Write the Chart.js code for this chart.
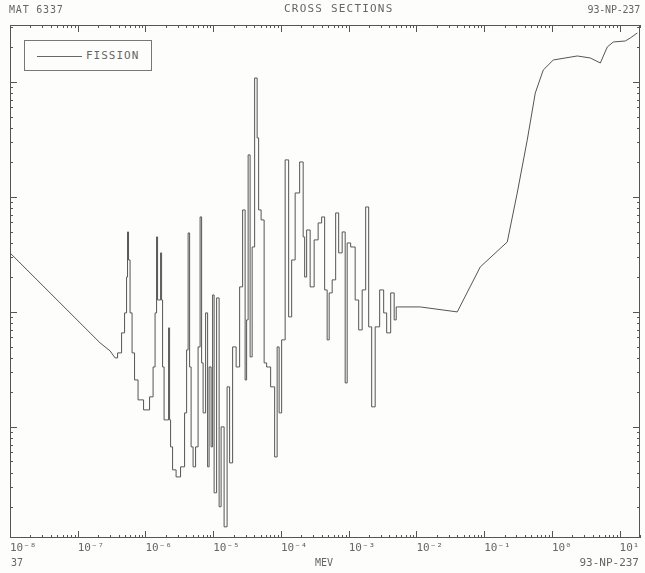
<!DOCTYPE html>
<html>
<head>
<meta charset="utf-8">
<script src="https://cdn.jsdelivr.net/npm/chart.js@4/dist/chart.umd.min.js"></script>
<style>
  html, body { margin: 0; padding: 0; background: #fdfdfc; }
  #wrap { position: relative; width: 645px; height: 573px; overflow: hidden; }
  #plot { position: absolute; left: 0; top: 0; }
  .lbl { position: absolute; font-family: "DejaVu Sans Mono", monospace; font-size: 10px; color: #666; white-space: pre; line-height: 12px; }
  #legend { position: absolute; left: 24px; top: 40px; width: 128px; height: 31px; border: 1px solid #777; box-sizing: border-box; background: #fdfdfc; }
  #legend .sample { position: absolute; left: 12px; top: 15px; width: 45px; height: 0; border-top: 1px solid #666; }
  #legend .txt { position: absolute; left: 61px; top: 8px; font-family: "DejaVu Sans Mono", monospace; font-size: 11px; color: #666; letter-spacing: 1px; }
</style>
</head>
<body>
<div id="wrap">
  <canvas id="plot" width="645" height="573"></canvas>
  <div class="lbl" style="left:9px; top:4px; letter-spacing:0.8px;">MAT 6337</div>
  <div class="lbl" style="left:284px; top:3px; font-size:11px; letter-spacing:1.2px;">CROSS SECTIONS</div>
  <div class="lbl" style="right:5px; top:4px; letter-spacing:-0.2px;">93-NP-237</div>
  <div class="lbl" style="left:11px; top:557px;">37</div>
  <div class="lbl" style="left:315px; top:557px;">MEV</div>
  <div class="lbl" style="right:6px; top:557px; font-size:11px;">93-NP-237</div>
  <div id="legend"><div class="sample"></div><div class="txt">FISSION</div></div>
</div>
<script>
// Np-237 fission cross section (barns) vs incident energy (MeV)
const energia = [
  1.00e-8, 2.135e-7, 3.00e-7, 3.56e-7, 4.22e-7, 4.67e-7, 5.17e-7, 5.35e-7, 5.53e-7, 5.72e-7,
  6.13e-7, 6.56e-7, 7.26e-7, 8.32e-7, 1.056e-6, 1.252e-6, 1.340e-6, 1.434e-6, 1.484e-6, 1.535e-6,
  1.644e-6, 1.700e-6, 1.760e-6, 1.820e-6, 1.948e-6, 2.157e-6, 2.232e-6, 2.309e-6, 2.388e-6, 2.645e-6,
  3.03e-6, 3.59e-6, 3.98e-6, 4.12e-6, 4.41e-6, 4.56e-6, 4.88e-6, 5.22e-6, 5.78e-6, 6.19e-6,
  6.63e-6, 6.86e-6, 7.34e-6, 8.13e-6, 8.41e-6, 9.00e-6, 9.63e-6, 9.97e-6, 1.067e-5, 1.182e-5,
  1.265e-5, 1.354e-5, 1.550e-5, 1.660e-5, 1.838e-5, 2.036e-5, 2.333e-5, 2.584e-5, 2.861e-5, 3.06e-5,
  3.17e-5, 3.39e-5, 3.63e-5, 3.89e-5, 4.30e-5, 4.61e-5, 4.76e-5, 5.46e-5, 5.84e-5, 6.47e-5,
  7.67e-5, 8.50e-5, 9.09e-5, 9.73e-5, 1.078e-4, 1.235e-4, 1.368e-4, 1.515e-4, 1.735e-4, 2.057e-4,
  2.202e-4, 2.278e-4, 2.522e-4, 2.89e-4, 3.31e-4, 3.79e-4, 4.20e-4, 4.65e-4, 4.98e-4, 5.33e-4,
  6.11e-4, 6.76e-4, 7.49e-4, 8.58e-4, 9.19e-4, 9.83e-4, 1.165e-3, 1.335e-3, 1.479e-3, 1.694e-3,
  1.876e-3, 2.078e-3, 2.301e-3, 2.636e-3, 3.12e-3, 3.46e-3, 3.83e-3, 4.54e-3, 4.86e-3, 5.21e-3,
  1.138e-2, 4.01e-2, 8.76e-2, 0.2195, 0.308, 0.433, 0.569, 0.746, 1.049, 2.372,
  3.69, 5.19, 6.58, 8.07, 12.14, 14.39, 18.26
];
const fissao = [
  0.0326, 5.38e-3, 4.58e-3, 3.98e-3, 4.40e-3, 6.57e-3, 9.80e-3, 0.0201, 0.0496, 0.0283,
  9.80e-3, 4.40e-3, 2.56e-3, 1.717e-3, 1.405e-3, 1.824e-3, 3.32e-3, 9.80e-3, 0.0449, 0.0127,
  0.0127, 0.0326, 0.0127, 3.32e-3, 1.150e-3, 1.150e-3, 7.26e-3, 1.150e-3, 6.70e-4, 4.23e-4,
  3.67e-4, 4.49e-4, 1.323e-3, 4.67e-3, 0.0486, 3.32e-3, 6.70e-4, 4.49e-4, 6.70e-4, 4.96e-3,
  0.0670, 3.60e-3, 1.323e-3, 9.80e-3, 4.49e-4, 3.32e-3, 6.70e-4, 0.01405, 2.67e-4, 0.01323,
  2.02e-4, 1.00e-3, 1.351e-4, 2.23e-3, 4.86e-4, 4.96e-3, 3.32e-3, 0.0165, 0.0771, 2.56e-3,
  8.52e-3, 0.232, 4.06e-3, 0.0367, 1.083, 0.326, 0.0771, 0.0631, 3.60e-3, 3.32e-3,
  2.23e-3, 5.48e-4, 4.96e-3, 1.323e-3, 5.71e-3, 0.210, 9.05e-3, 0.0283, 0.1083, 0.2015,
  0.0449, 0.0201, 0.0516, 0.0165, 0.0423, 0.0594, 0.0670, 0.01553, 5.71e-3, 0.01463,
  0.0190, 0.0726, 0.0326, 0.0496, 2.41e-3, 0.0398, 0.0367, 0.0127, 6.97e-3, 0.01553,
  0.0818, 7.41e-3, 1.493e-3, 7.41e-3, 0.01553, 9.80e-3, 6.57e-3, 0.01463, 8.52e-3, 0.01105,
  0.01105, 0.0100, 0.0246, 0.0406, 0.1083, 0.313, 0.802, 1.271, 1.553, 1.683,
  1.617, 1.463, 2.016, 2.228, 2.273, 2.413, 2.668
];
// resolved resonance range: indices from the first dip to the end of the spikes
const RES_INI = 3, RES_FIM = 109;

// decade tick labels on the energy axis
const decadas = [-8, -7, -6, -5, -4, -3, -2, -1, 0, 1];
const rotulosX = ['10\u207B\u2078', '10\u207B\u2077', '10\u207B\u2076', '10\u207B\u2075', '10\u207B\u2074',
                  '10\u207B\u00B3', '10\u207B\u00B2', '10\u207B\u00B9', '10\u2070', '10\u00B9'];
const decadasY = [-4, -3, -2, -1, 0];

const X_MIN = 1e-8, X_MAX = 20;
const Y_MIN = 1.08e-4, Y_MAX = 3.13;
const INK = '#555';

function pontos(a, b) {
  return energia.slice(a, b + 1).map((e, i) => ({ x: e, y: fissao[a + i] }));
}
function serie(a, b, stepped) {
  return { label: 'FISSION', data: pontos(a, b), borderColor: INK, borderWidth: 1,
           pointRadius: 0, tension: 0, fill: false, stepped: stepped };
}

// moldura + marcas de escala para dentro, nos quatro lados
const molduraPlugin = {
  id: 'moldura',
  afterDraw(chart) {
    const { ctx, chartArea: a, scales } = chart;
    ctx.save();
    ctx.strokeStyle = INK;
    ctx.lineWidth = 1;
    ctx.strokeRect(a.left + 0.5, a.top + 0.5, a.right - a.left - 1, a.bottom - a.top - 1);
    ctx.beginPath();
    decadas.forEach(d => {
      for (let m = 1; m <= 9; m++) {
        const v = m * Math.pow(10, d);
        if (v < X_MIN || v > X_MAX) continue;
        const px = Math.round(scales.x.getPixelForValue(v)) + 0.5;
        const len = m === 1 ? 7 : 3;
        ctx.moveTo(px, a.bottom); ctx.lineTo(px, a.bottom - len);
        ctx.moveTo(px, a.top); ctx.lineTo(px, a.top + len);
      }
    });
    decadasY.forEach(d => {
      for (let m = 1; m <= 9; m++) {
        const v = m * Math.pow(10, d);
        if (v < Y_MIN || v > Y_MAX) continue;
        const py = Math.round(scales.y.getPixelForValue(v)) + 0.5;
        const len = m === 1 ? 7 : 3;
        ctx.moveTo(a.left, py); ctx.lineTo(a.left + len, py);
        ctx.moveTo(a.right, py); ctx.lineTo(a.right - len, py);
      }
    });
    ctx.stroke();
    ctx.restore();
  }
};

document.addEventListener('DOMContentLoaded', function () {
  const c = document.getElementById('plot');
  new Chart(c.getContext('2d'), {
    type: 'line',
    data: {
      datasets: [
        serie(0, RES_INI, false),
        serie(RES_INI, RES_FIM, 'middle'),
        serie(RES_FIM, energia.length - 1, false)
      ]
    },
    options: {
      responsive: false,
      animation: false,
      devicePixelRatio: 1,
      layout: { padding: { left: 10, right: 5, top: 25, bottom: 0 } },
      plugins: { legend: { display: false }, title: { display: false }, tooltip: { enabled: false } },
      scales: {
        x: {
          type: 'logarithmic', min: X_MIN, max: X_MAX,
          afterBuildTicks: s => { s.ticks = decadas.map(d => ({ value: Math.pow(10, d) })); },
          afterFit: s => { s.height = 35; },
          ticks: {
            autoSkip: false, maxRotation: 0, minRotation: 0, align: 'start', padding: 4,
            color: '#666', font: { family: 'DejaVu Sans Mono', size: 11 },
            callback: (v, i) => rotulosX[i]
          },
          grid: { drawOnChartArea: false, drawTicks: false },
          border: { display: false }
        },
        y: {
          type: 'logarithmic', min: Y_MIN, max: Y_MAX,
          afterFit: s => { s.width = 0; },
          ticks: { display: false },
          grid: { drawOnChartArea: false, drawTicks: false },
          border: { display: false }
        }
      }
    },
    plugins: [molduraPlugin]
  });
});
</script>
</body>
</html>
